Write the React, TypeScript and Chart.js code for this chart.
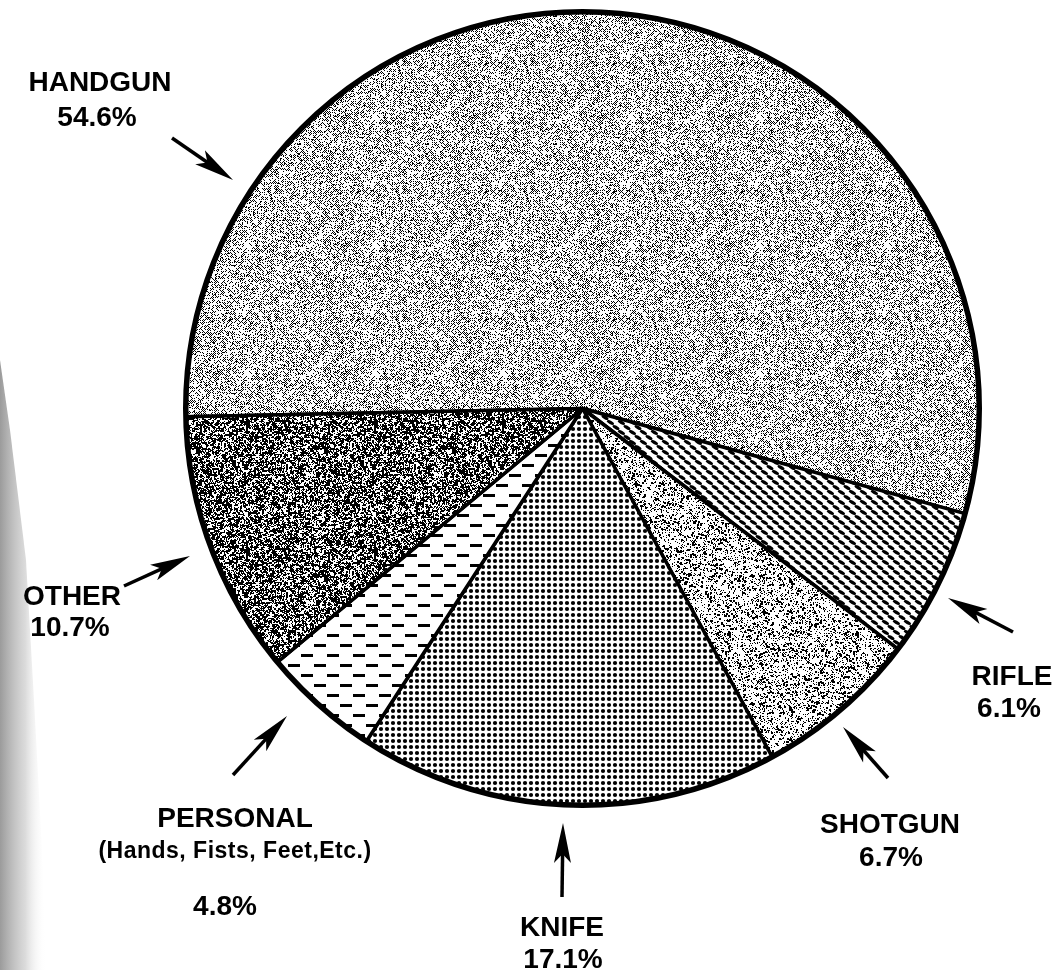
import React, { useEffect, useRef } from "react";
import { Chart, registerables } from "chart.js";

Chart.register(...registerables);

const categories = ["HANDGUN", "RIFLE", "SHOTGUN", "KNIFE", "PERSONAL", "OTHER"];
const percentages = [54.6, 6.1, 6.7, 17.1, 4.8, 10.7];
const subtitles = ["", "", "", "", "(Hands, Fists, Feet,Etc.)", ""];

// annotation layout (text centres and arrows tail->tip), not data
const labelLayout = [
  { name: [100, 81], pct: [97, 116], arrow: [172, 138, 233, 180] },
  { name: [1012, 675], pct: [1009, 707], arrow: [1013, 632, 948, 598] },
  { name: [890, 823], pct: [891, 856], arrow: [888, 778, 843, 727] },
  { name: [562, 926], pct: [563, 958], arrow: [562, 897, 563, 823] },
  { name: [235, 817], pct: [225, 905], sub: [235, 852], arrow: [233, 775, 287, 716] },
  { name: [72, 595], pct: [70, 626], arrow: [124, 586, 190, 556] },
];

function hash(x: number, y: number, s: number) {
  let h = Math.imul(x, 0x27d4eb2d) ^ Math.imul(y, 0x165667b1) ^ Math.imul(s + 1, 0x9e3779b1);
  h = Math.imul(h ^ (h >>> 16), 0x85ebca6b);
  h = Math.imul(h ^ (h >>> 13), 0xc2b2ae35);
  h = Math.imul(h ^ (h >>> 16), 0x27d4eb2f);
  h ^= h >>> 15;
  return (h >>> 0) / 4294967296;
}

function makeTile(w: number, h: number, draw: (c: CanvasRenderingContext2D) => void) {
  const cv = document.createElement("canvas");
  cv.width = w;
  cv.height = h;
  const c = cv.getContext("2d")!;
  c.fillStyle = "#fff";
  c.fillRect(0, 0, w, h);
  draw(c);
  return cv;
}

function buildPatterns(ctx: CanvasRenderingContext2D) {
  const handgun = makeTile(128, 128, (c) => {
    c.fillStyle = "#000";
    for (let y = 0; y < 128; y++)
      for (let x = 0; x < 128; x++) {
        const r = hash(x, y, 1);
        if (((x + y) & 1) === 0 ? r < 0.5 : r < 0.04) c.fillRect(x, y, 1, 1);
      }
  });
  const rifle = makeTile(11, 10, (c) => {
    c.fillStyle = "#000";
    const pts = [[5.5, 2.5], [0, 7.5], [11, 7.5]];
    for (const [x, y] of pts) {
      c.beginPath();
      c.ellipse(x, y, 3.9, 1.7, 0.5, 0, Math.PI * 2);
      c.fill();
    }
  });
  const shotgun = makeTile(128, 128, (c) => {
    c.fillStyle = "#000";
    for (let y = 0; y < 128; y++)
      for (let x = 0; x < 128; x++) {
        const r = hash(x, y, 7);
        if (r < 0.17) c.fillRect(x, y, 1, 1);
        else if (r < 0.2) c.fillRect(x, y, 2, 2);
      }
  });
  const knife = makeTile(6, 6, (c) => {
    c.fillStyle = "#000";
    c.beginPath();
    c.arc(3, 3, 2.1, 0, Math.PI * 2);
    c.fill();
  });
  const personal = makeTile(26, 20, (c) => {
    c.fillStyle = "#000";
    c.fillRect(2, 4, 12, 3);
    c.fillRect(15, 14, 11, 3);
    c.fillRect(0, 14, 1, 3);
  });
  const other = makeTile(128, 128, (c) => {
    c.fillStyle = "#000";
    for (let y = 0; y < 128; y++)
      for (let x = 0; x < 128; x++) {
        const r = hash(x >> 1, y >> 1, 11) * 0.5 + hash(x, y, 12) * 0.5;
        if (r < 0.55) c.fillRect(x, y, 1, 1);
      }
  });
  return [handgun, rifle, shotgun, knife, personal, other].map(
    (t) => ctx.createPattern(t, "repeat") as CanvasPattern
  );
}

function drawArrow(c: CanvasRenderingContext2D, x1: number, y1: number, x2: number, y2: number) {
  const dx = x2 - x1;
  const dy = y2 - y1;
  const len = Math.hypot(dx, dy);
  const ux = dx / len;
  const uy = dy / len;
  const headLen = 40;
  const half = 8.5;
  const bx = x2 - ux * headLen;
  const by = y2 - uy * headLen;
  c.save();
  c.strokeStyle = "#000";
  c.fillStyle = "#000";
  c.lineWidth = 3.5;
  c.beginPath();
  c.moveTo(x1, y1);
  c.lineTo(bx + ux * 10, by + uy * 10);
  c.stroke();
  c.beginPath();
  c.moveTo(x2, y2);
  c.lineTo(bx - uy * half, by + ux * half);
  c.lineTo(bx + ux * 9, by + uy * 9);
  c.lineTo(bx + uy * half, by - ux * half);
  c.closePath();
  c.fill();
  c.restore();
}

const backgroundPlugin = {
  id: "paperBg",
  beforeDraw(chart: any) {
    const c = chart.ctx as CanvasRenderingContext2D;
    c.save();
    c.fillStyle = "#fff";
    c.fillRect(0, 0, chart.width, chart.height);
    const g = c.createLinearGradient(0, 0, 46, 0);
    g.addColorStop(0, "rgba(130,130,130,0.8)");
    g.addColorStop(0.55, "rgba(175,175,175,0.45)");
    g.addColorStop(1, "rgba(255,255,255,0)");
    c.fillStyle = g;
    c.beginPath();
    c.moveTo(0, 360);
    c.lineTo(10, 430);
    c.lineTo(26, 560);
    c.lineTo(34, 700);
    c.lineTo(42, 850);
    c.lineTo(46, 970);
    c.lineTo(0, 970);
    c.closePath();
    c.fill();
    c.restore();
  },
};

const annotationPlugin = {
  id: "annotations",
  afterDatasetsDraw(chart: any) {
    const c = chart.ctx as CanvasRenderingContext2D;
    const meta = chart.getDatasetMeta(0);
    const arc = meta.data[0];
    c.save();
    c.strokeStyle = "#000";
    c.lineWidth = 5.5;
    c.beginPath();
    c.arc(arc.x, arc.y, arc.outerRadius, 0, Math.PI * 2);
    c.stroke();
    c.fillStyle = "#000";
    c.textAlign = "center";
    c.textBaseline = "alphabetic";
    categories.forEach((name, i) => {
      const L: any = labelLayout[i];
      c.font = "bold 28px 'Liberation Sans', Arial, sans-serif";
      (c as any).letterSpacing = "0px";
      c.fillText(name, L.name[0], L.name[1] + 10);
      c.fillText(percentages[i].toFixed(1) + "%", L.pct[0], L.pct[1] + 10);
      if (subtitles[i]) {
        c.font = "bold 23px 'Liberation Sans', Arial, sans-serif";
        (c as any).letterSpacing = "0.5px";
        c.fillText(subtitles[i], L.sub[0], L.sub[1] + 6);
        (c as any).letterSpacing = "0px";
      }
      const a = L.arrow;
      drawArrow(c, a[0], a[1], a[2], a[3]);
    });
    c.restore();
  },
};

export default function App() {
  const ref = useRef<HTMLCanvasElement | null>(null);
  useEffect(() => {
    const canvas = ref.current!;
    const ctx = canvas.getContext("2d")!;
    const patterns = buildPatterns(ctx);
    const chart = new Chart(canvas, {
      type: "pie",
      data: {
        labels: categories,
        datasets: [
          {
            data: percentages,
            backgroundColor: patterns as any,
            borderColor: "#000",
            borderWidth: 3.5,
            hoverOffset: 0,
          },
        ],
      },
      options: {
        responsive: false,
        animation: false,
        rotation: 268.8,
        layout: { padding: { left: 184, right: 75, top: 10, bottom: 163 } },
        plugins: {
          legend: { display: false },
          tooltip: { enabled: false },
        },
      },
      plugins: [backgroundPlugin, annotationPlugin],
    });
    return () => chart.destroy();
  }, []);
  return (
    <div style={{ position: "absolute", left: 0, top: 0, width: 1056, height: 970 }}>
      <canvas ref={ref} width={1056} height={970} style={{ display: "block" }} />
    </div>
  );
}
